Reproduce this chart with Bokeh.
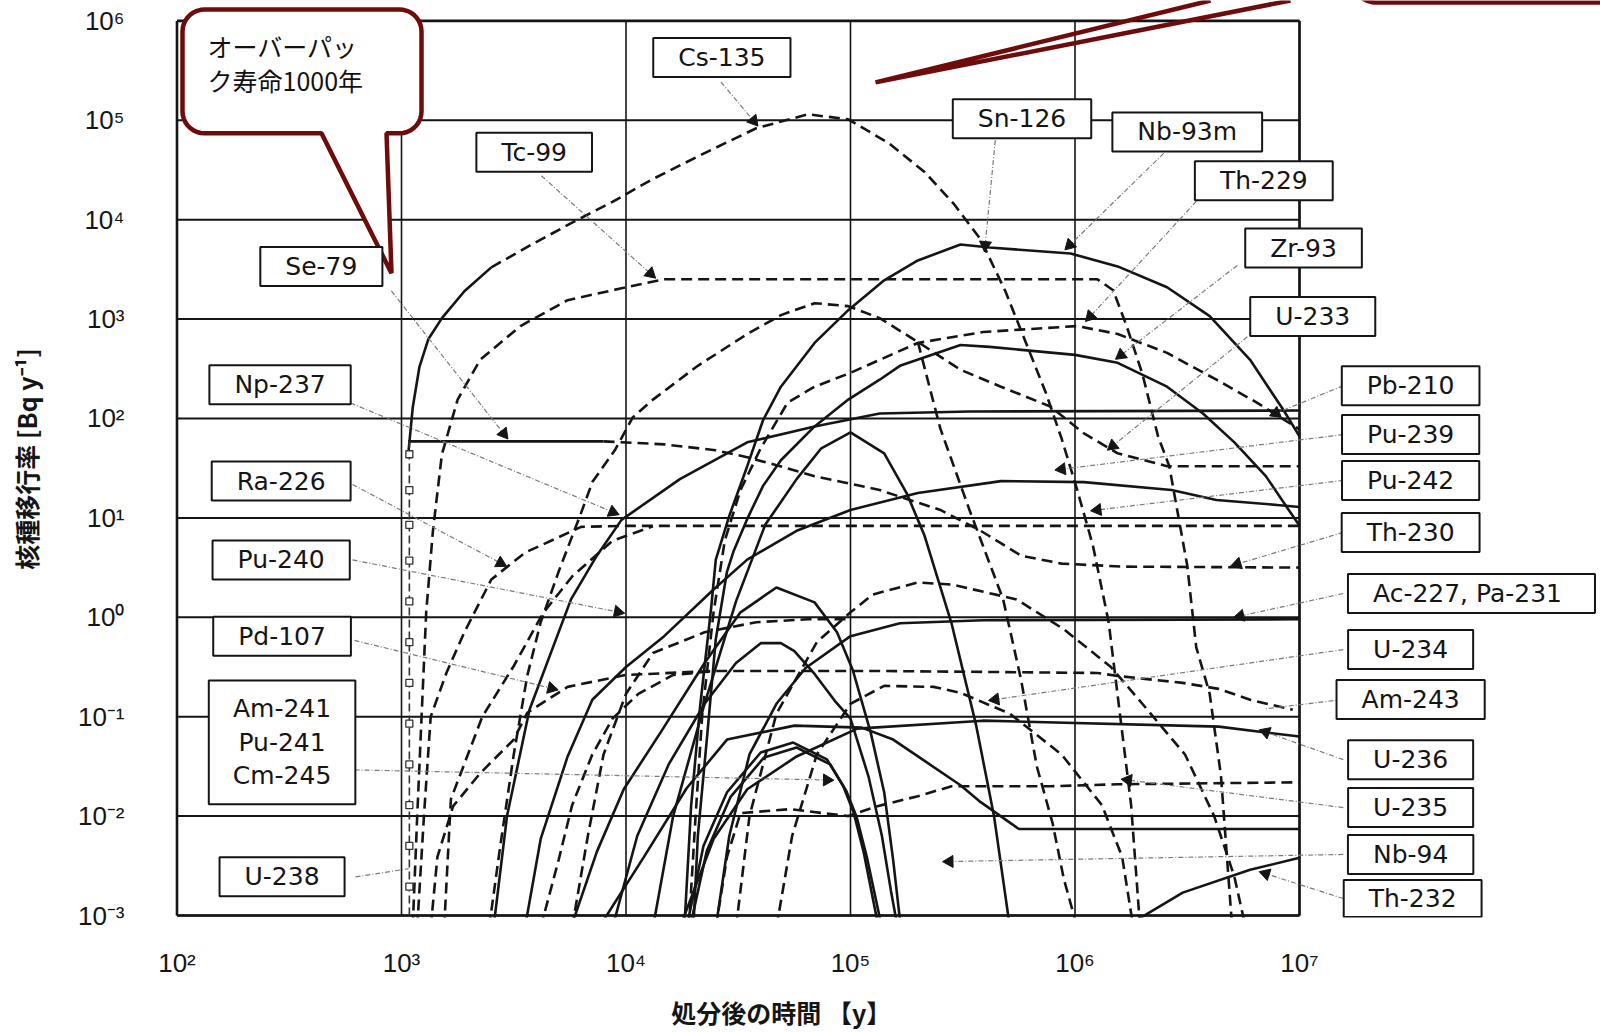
import math
from bokeh.plotting import figure
from bokeh.models import Range1d, FixedTicker, Label
from bokeh.core.properties import value
from bokeh.embed import file_html
from bokeh.resources import INLINE

# ---------------- axis ticks ----------------
X_TICKS = [1e2, 1e3, 1e4, 1e5, 1e6, 1e7]
X_TICK_LABELS = ["10²", "10³", "10⁴", "10⁵", "10⁶", "10⁷"]
Y_TICKS = [1e-3, 1e-2, 1e-1, 1e0, 1e1, 1e2, 1e3, 1e4, 1e5, 1e6]
Y_TICK_LABELS = ["10⁻³", "10⁻²", "10⁻¹", "10⁰", "10¹", "10²", "10³", "10⁴", "10⁵", "10⁶"]

# ---------------- curves: log10(time [y]) and log10(rate [Bq/y]) ----------------
se79_rise_t = [3.03, 3.05, 3.08, 3.12, 3.18, 3.28, 3.40]
se79_rise_r = [1.64, 2.11, 2.52, 2.80, 3.01, 3.28, 3.52]

cs135_t = [3.40, 3.58, 3.76, 3.94, 4.12, 4.35, 4.58, 4.81, 4.99, 5.17, 5.33, 5.46, 5.58, 5.69, 5.78, 5.87, 5.94, 6.01, 6.08, 6.15, 6.20, 6.25, 6.29]
cs135_r = [3.52, 3.75, 3.97, 4.18, 4.41, 4.67, 4.92, 5.06, 5.01, 4.77, 4.48, 4.16, 3.80, 3.28, 2.77, 2.26, 1.80, 1.28, 0.72, -0.05, -0.97, -1.89, -3.12]

tc99_t = [3.05, 3.07, 3.09, 3.11, 3.14, 3.18, 3.25, 3.35, 3.53, 3.74, 3.98, 4.17, 6.10, 6.17, 6.23, 6.30, 6.37, 6.42, 6.50, 6.54, 6.60, 6.65, 6.67, 6.70]
tc99_r = [-3.12, -2.00, -0.97, 0.05, 0.87, 1.64, 2.19, 2.59, 2.93, 3.19, 3.31, 3.40, 3.40, 3.29, 2.93, 2.45, 1.82, 1.52, 0.52, -0.30, -0.77, -1.59, -2.20, -3.12]

np237_solid_t = [3.03, 3.90]
np237_solid_r = [1.77, 1.77]
np237_t = [3.90, 4.17, 4.40, 4.54, 4.67, 4.84, 5.13, 5.40, 5.58, 5.76, 5.94, 6.21, 7.0]
np237_r = [1.77, 1.74, 1.68, 1.61, 1.53, 1.42, 1.28, 1.08, 0.87, 0.62, 0.54, 0.51, 0.50]

ra226_t = [3.07, 3.10, 3.13, 3.20, 3.28, 3.40, 3.55, 3.80, 4.0, 7.0]
ra226_r = [-3.12, -2.00, -1.00, -0.56, -0.15, 0.38, 0.65, 0.91, 0.92, 0.92]

pb210_t = [3.19, 3.22, 3.36, 3.50, 3.63, 3.76, 3.94, 4.12]
pb210_r = [-3.12, -1.83, -1.00, -0.49, 0.04, 0.41, 0.77, 0.915]

sn126_t = [4.26, 4.29, 4.33, 4.38, 4.40, 4.46, 4.54, 4.61, 4.69, 4.84, 4.99, 5.15, 5.30, 5.49, 5.62, 5.98, 6.19, 6.41, 6.60, 6.78, 6.93, 7.0]
sn126_r = [-3.12, -1.90, -0.90, 0.11, 0.58, 1.02, 1.52, 1.98, 2.32, 2.76, 3.09, 3.39, 3.59, 3.75, 3.72, 3.66, 3.53, 3.32, 3.03, 2.59, 2.08, 1.82]

nb93m_t = [4.30, 4.32, 4.36, 4.40, 4.45, 4.48, 4.54, 4.61, 4.69, 4.84, 4.99, 5.13, 5.22, 5.49, 5.62, 6.0, 6.19, 6.41, 6.57, 6.71, 6.85, 7.0]
nb93m_r = [-3.12, -2.20, -1.23, -0.22, 0.46, 0.67, 0.99, 1.32, 1.58, 1.92, 2.19, 2.39, 2.53, 2.74, 2.72, 2.64, 2.56, 2.32, 2.05, 1.76, 1.42, 0.92]

th229_t = [4.28, 4.31, 4.34, 4.39, 4.44, 4.51, 4.60, 4.72, 4.84, 4.99, 5.13, 5.30, 5.59, 6.01, 6.19, 6.41, 6.63, 6.81, 7.0]
th229_r = [-3.12, -2.0, -0.97, 0.05, 0.77, 1.28, 1.70, 2.16, 2.32, 2.45, 2.59, 2.76, 2.87, 2.93, 2.85, 2.66, 2.39, 2.16, 1.89]

zr93_t = [3.39, 3.44, 3.50, 3.56, 3.62, 3.70, 3.80, 3.85, 3.95, 4.03, 4.12, 4.32, 4.54, 4.69, 4.84, 4.99, 5.13, 5.30, 5.49, 5.67, 5.89, 6.04, 6.19, 6.41, 7.0]
zr93_r = [-3.12, -2.30, -1.38, -0.59, -0.05, 0.46, 1.05, 1.36, 1.68, 2.01, 2.19, 2.53, 2.85, 3.04, 3.16, 3.13, 3.01, 2.77, 2.49, 2.32, 2.12, 1.85, 1.65, 1.52, 1.52]

pu239_t = [3.41, 3.47, 3.57, 3.755, 3.87, 3.98, 4.24, 4.54, 4.84, 5.13, 5.53, 7.0]
pu239_r = [-3.12, -2.0, -0.93, 0.18, 0.62, 0.98, 1.39, 1.76, 1.92, 2.05, 2.07, 2.08]

pu242_t = [3.55, 3.62, 3.74, 3.85, 4.0, 4.17, 4.39, 4.54, 4.76, 5.0, 5.30, 5.67, 6.04, 6.43, 6.63, 6.90, 7.0]
pu242_r = [-3.12, -2.23, -1.40, -0.83, -0.50, -0.19, 0.28, 0.58, 0.87, 1.08, 1.25, 1.37, 1.36, 1.28, 1.18, 1.13, 1.11]

u233_t = [4.12, 4.21, 4.35, 4.49, 4.62, 4.76, 4.87, 5.0, 5.15, 5.25, 5.33, 5.45, 5.56, 5.64, 5.71]
u233_r = [-3.12, -2.0, -0.87, 0.16, 0.93, 1.39, 1.70, 1.86, 1.65, 1.25, 0.82, -0.06, -1.09, -2.01, -3.12]

am241_t = [3.755, 3.87, 3.99, 4.155, 4.35, 4.51, 4.67, 4.84, 4.94, 5.01, 5.09, 5.15, 5.19, 5.22, 5.23]
am241_r = [-3.12, -2.36, -1.73, -1.155, -0.46, 0.05, 0.30, 0.15, -0.15, -0.53, -1.16, -1.76, -2.44, -3.04, -3.12]

pu241_t = [3.94, 4.05, 4.19, 4.35, 4.49, 4.60, 4.69, 4.75, 4.84, 4.93, 5.0, 5.08, 5.14, 5.18, 5.21]
pu241_r = [-3.12, -2.20, -1.48, -0.87, -0.46, -0.26, -0.26, -0.34, -0.57, -0.84, -1.02, -1.60, -2.20, -2.75, -3.12]

cm245_t = [4.27, 4.345, 4.45, 4.60, 4.745, 4.895, 4.968, 5.014, 5.059, 5.118, 5.13]
cm245_r = [-3.12, -2.30, -1.76, -1.36, -1.26, -1.43, -1.70, -1.965, -2.365, -3.04, -3.12]
cm245b_t = [4.285, 4.36, 4.465, 4.615, 4.76, 4.91, 4.982, 5.028, 5.073, 5.132, 5.144]
cm245b_r = [-3.12, -2.35, -1.81, -1.41, -1.31, -1.48, -1.75, -2.015, -2.415, -3.04, -3.12]

u236_t = [4.24, 4.39, 4.54, 4.76, 5.03, 5.59, 6.64, 7.0]
u236_r = [-3.12, -2.23, -1.73, -1.40, -1.12, -1.04, -1.10, -1.20]

ac227_t = [4.40, 4.46, 4.55, 4.67, 4.80, 5.0, 5.22, 5.59, 7.0]
ac227_r = [-3.12, -2.20, -1.38, -0.87, -0.51, -0.19, -0.06, -0.03, -0.02]

nb94_t = [3.88, 4.08, 4.27, 4.45, 4.75, 5.05, 5.19, 5.34, 5.49, 5.58, 5.75, 7.0]
nb94_r = [-3.12, -2.41, -1.72, -1.23, -1.09, -1.11, -1.23, -1.46, -1.69, -1.86, -2.13, -2.13]

th232_t = [6.22, 6.48, 6.78, 7.0]
th232_r = [-3.12, -2.77, -2.54, -2.42]

u235_t = [4.40, 4.45, 4.51, 4.73, 4.99, 5.12, 5.30, 5.45, 5.89, 6.19, 7.0]
u235_r = [-3.12, -2.41, -1.97, -1.93, -2.0, -1.90, -1.80, -1.70, -1.70, -1.68, -1.66]

u234_t = [3.62, 3.70, 3.76, 3.85, 3.94, 4.055, 4.21, 4.40]
u234_r = [-3.12, -2.44, -1.89, -1.38, -1.02, -0.77, -0.58, -0.54]

pd107_t = [3.13, 3.16, 3.23, 3.35, 3.50, 3.56, 3.74, 4.0, 4.39, 5.13, 6.10, 6.19, 6.48, 6.64, 6.78, 6.97]
pd107_r = [-3.12, -2.41, -1.90, -1.57, -1.23, -0.96, -0.70, -0.58, -0.54, -0.54, -0.56, -0.59, -0.66, -0.72, -0.83, -0.93]

th230_t = [4.49, 4.55, 4.67, 4.85, 5.0, 5.10, 5.30, 5.45, 5.74, 5.95, 6.16, 6.30, 6.49, 6.62, 6.71, 6.76]
th230_r = [-3.12, -2.0, -0.97, -0.25, 0.05, 0.23, 0.35, 0.33, 0.18, -0.12, -0.50, -0.87, -1.38, -2.0, -2.61, -3.12]

am243_t = [4.67, 4.74, 4.85, 5.0, 5.15, 5.37, 5.49, 5.71, 5.94, 6.12, 6.21, 6.26]
am243_r = [-3.12, -2.20, -1.38, -0.87, -0.69, -0.70, -0.76, -0.97, -1.38, -1.89, -2.41, -3.12]

pa231_t = [5.30, 5.40, 5.53, 5.68, 5.76, 5.83, 5.90, 5.95, 6.01]
pa231_r = [2.77, 1.90, 1.08, 0.18, -0.63, -1.50, -2.07, -2.63, -3.12]

pu240_t = [3.76, 3.83, 3.90, 4.0, 4.12, 4.35, 4.58, 4.81, 5.0]
pu240_r = [-3.12, -2.20, -1.38, -0.77, -0.36, -0.15, -0.05, -0.02, -0.02]

u238_t = [3.035, 3.035]
u238_r = [-3.12, 1.77]
u238_mark_r = [1.64, 1.28, 0.93, 0.57, 0.16, -0.25, -0.66, -1.07, -1.48, -1.89, -2.30, -2.71]

SOLID = [(se79_rise_t, se79_rise_r), (np237_solid_t, np237_solid_r), (sn126_t, sn126_r),
         (nb93m_t, nb93m_r), (pu239_t, pu239_r), (pu242_t, pu242_r), (u233_t, u233_r),
         (am241_t, am241_r), (pu241_t, pu241_r), (cm245_t, cm245_r), (cm245b_t, cm245b_r),
         (u236_t, u236_r), (ac227_t, ac227_r), (nb94_t, nb94_r), (th232_t, th232_r)]
DASHED = [(cs135_t, cs135_r), (tc99_t, tc99_r), (np237_t, np237_r), (ra226_t, ra226_r),
          (pb210_t, pb210_r), (th229_t, th229_r), (zr93_t, zr93_r), (u235_t, u235_r),
          (u234_t, u234_r), (pd107_t, pd107_r), (th230_t, th230_r), (am243_t, am243_r),
          (pa231_t, pa231_r), (pu240_t, pu240_r)]

# ---------------- nuclide labels: text, box centre (log t, log r) ----------------
LABELS = [
    ("Se-79", 2.643, 3.53), ("Np-237", 2.459, 2.34), ("Ra-226", 2.464, 1.37),
    ("Pu-240", 2.464, 0.577), ("Pd-107", 2.468, -0.19), ("Am-241\nPu-241\nCm-245", 2.468, -1.258),
    ("U-238", 2.468, -2.611), ("Tc-99", 3.591, 4.678), ("Cs-135", 4.427, 5.631),
    ("Sn-126", 5.764, 5.016), ("Nb-93m", 6.50, 4.883), ("Th-229", 6.841, 4.391),
    ("Zr-93", 7.018, 3.714), ("U-233", 7.059, 3.027), ("Pb-210", 7.495, 2.33),
    ("Pu-239", 7.495, 1.838), ("Pu-242", 7.495, 1.377), ("Th-230", 7.495, 0.854),
    ("Ac-227,  Pa-231", 7.766, 0.239), ("U-234", 7.495, -0.325), ("Am-243", 7.495, -0.827),
    ("U-236", 7.495, -1.432), ("U-235", 7.495, -1.914), ("Nb-94", 7.495, -2.386),
    ("Th-232", 7.504, -2.829),
]
# leader lines: start (log t, log r), end (log t, log r), arrowhead?
LEADERS = [
    (2.955, 3.283, 3.455, 1.848, True), (2.773, 2.156, 3.941, 1.059, True),
    (2.782, 1.336, 3.441, 0.546, True), (2.782, 0.577, 3.964, 0.054, True),
    (2.791, -0.233, 3.668, -0.714, True), (2.791, -1.535, 4.895, -1.637, True),
    (2.795, -2.611, 3.032, -2.529, False), (3.623, 4.442, 4.109, 3.458, True),
    (4.423, 5.385, 4.568, 4.995, True), (5.645, 4.80, 5.60, 3.745, True),
    (6.395, 4.667, 5.977, 3.745, True), (6.541, 4.186, 6.068, 3.027, True),
    (6.723, 3.54, 6.205, 2.638, True), (6.768, 2.822, 6.168, 1.725, True),
    (7.195, 2.33, 6.895, 2.053, True), (7.195, 1.838, 5.941, 1.49, True),
    (7.195, 1.377, 6.10, 1.08, True), (7.195, 0.854, 6.723, 0.536, True),
    (7.195, 0.239, 6.736, 0.013, True), (7.195, -0.325, 5.645, -0.827, True),
    (7.195, -0.827, 6.85, -0.92, False), (7.195, -1.432, 6.85, -1.155, True),
    (7.195, -1.914, 6.236, -1.637, True), (7.195, -2.386, 5.441, -2.457, True),
    (7.195, -2.829, 6.85, -2.58, True),
]

# ---------------- layout (the page is drawn from its top-left corner) ----------------
W, H = 1600, 1032
BL, BB = 174, 114
X0_PAGE = 176.5     # page x of 10^2
X7_PAGE = 1299.0    # page x of 10^7
Y6_PAGE = 20.4      # page y of 10^6
YM3_PAGE = 916.0    # page y of 10^-3
PXX = (X7_PAGE - X0_PAGE) / 5
PXY = (YM3_PAGE - Y6_PAGE) / 9
INK = "#151515"
DARKRED = "#6e0b0b"


def pw(v):
    return [10 ** a for a in v]


def page2data(px, py):
    return 10 ** (2 + (px - X0_PAGE) / PXX), 10 ** (6 - (py - Y6_PAGE) / PXY)


p = figure(width=W, height=H, x_axis_type="log", y_axis_type="log",
           x_range=Range1d(10 ** (2 - (X0_PAGE - BL) / PXX), 10 ** (2 + (W - X0_PAGE) / PXX)),
           y_range=Range1d(10 ** (-3 - (H - BB - YM3_PAGE) / PXY), 10 ** (6 + Y6_PAGE / PXY)),
           output_backend="svg", toolbar_location=None,
           min_border_left=BL, min_border_right=0, min_border_top=0, min_border_bottom=BB)
p.outline_line_color = None
p.xgrid.grid_line_color = None
p.ygrid.grid_line_color = None
p.background_fill_color = "white"
p.border_fill_color = "white"

for ax, ticks, labs in ((p.xaxis, X_TICKS, X_TICK_LABELS), (p.yaxis, Y_TICKS, Y_TICK_LABELS)):
    ax.ticker = FixedTicker(ticks=ticks)
    ax.major_label_overrides = dict(zip(ticks, labs))
    ax.axis_line_color = None
    ax.major_tick_line_color = None
    ax.minor_tick_line_color = None
    ax.major_label_text_font = "Liberation Sans"
    ax.major_label_text_font_size = "26px"
    ax.major_label_text_color = INK
    ax.axis_label_text_font = "Noto Sans CJK JP"
    ax.axis_label_text_font_size = "25px"
    ax.axis_label_text_font_style = "bold"
    ax.axis_label_text_color = INK

p.xaxis.major_label_standoff = 24
# ideographic spaces keep the centred title over the data area rather than the wide frame
p.xaxis.axis_label = "処分後の時間 【y】" + "\u3000" * 9
p.xaxis.axis_label_standoff = 13
p.yaxis.major_label_standoff = 44
p.yaxis.axis_label = "核種移行率 [Bq y⁻¹]"
p.yaxis.axis_label_standoff = 31

# grid lines of the original chart
p.segment(x0=[X_TICKS[0]] * len(Y_TICKS), y0=Y_TICKS, x1=[X_TICKS[-1]] * len(Y_TICKS), y1=Y_TICKS,
          line_color=INK, line_width=2)
p.segment(x0=X_TICKS, y0=[Y_TICKS[0]] * len(X_TICKS), x1=X_TICKS, y1=[Y_TICKS[-1]] * len(X_TICKS),
          line_color=INK, line_width=1.6)
p.segment(x0=[X_TICKS[0], X_TICKS[-1]], y0=[Y_TICKS[0]] * 2, x1=[X_TICKS[0], X_TICKS[-1]], y1=[Y_TICKS[-1]] * 2,
          line_color=INK, line_width=2.6)
p.segment(x0=[X_TICKS[0]] * 2, y0=[Y_TICKS[0], Y_TICKS[-1]], x1=[X_TICKS[-1]] * 2, y1=[Y_TICKS[0], Y_TICKS[-1]],
          line_color=INK, line_width=2.6)

# curves
for t, r in SOLID:
    p.line(pw(t), pw(r), line_color=INK, line_width=2.6)
for t, r in DASHED:
    p.line(pw(t), pw(r), line_color=INK, line_width=2.6, line_dash="11 6")
p.line(pw(u238_t), pw(u238_r), line_color="#333", line_width=1.6, line_dash="8 4")
p.scatter(pw([u238_t[0]] * len(u238_mark_r)), pw(u238_mark_r), marker="square", size=7,
          fill_color="white", line_color="#333", line_width=1.3)

# leader lines with arrowheads
for t0, r0, t1, r1, arrow in LEADERS:
    p.line(pw([t0, t1]), pw([r0, r1]), line_color="#7a7a7a", line_width=1.2, line_dash="5 2 1 2")
ax_, ay_, aa_ = [], [], []
for t0, r0, t1, r1, arrow in LEADERS:
    if arrow:
        ax_.append(10 ** t1)
        ay_.append(10 ** r1)
        aa_.append(math.atan2((r1 - r0) * PXY, (t1 - t0) * PXX) - math.pi / 2)
p.scatter(ax_, ay_, marker="triangle", size=12, angle=aa_, fill_color=INK, line_color=INK)

# callout: "overpack lifetime 1000 years"
left, top, right, bottom, rad = 182, 9, 421, 133, 22
base_l, base_r, tip = 321, 386, (391, 273)
pts = []
for cx, cy, a0 in ((left + rad, top + rad, 180), (right - rad, top + rad, 270), (right - rad, bottom - rad, 0)):
    for k in range(10):
        a = math.radians(a0 + k * 10)
        pts.append((cx + rad * math.cos(a), cy + rad * math.sin(a)))
pts += [(base_r, bottom), tip, (base_l, bottom)]
for k in range(10):
    a = math.radians(90 + k * 10)
    pts.append((left + rad + rad * math.cos(a), bottom - rad + rad * math.sin(a)))
cx_, cy_ = zip(*[page2data(a, b) for a, b in pts])
p.patch(list(cx_), list(cy_), fill_color="white", line_color=DARKRED, line_width=4.5)
tx1, ty1 = page2data(207, 46)
tx2, ty2 = page2data(207, 80)
p.text(x=[tx1, tx2], y=[ty1, ty2], text=["オーバーパッ", "ク寿命1000年"],
       text_font=value("Noto Sans CJK JP"), text_font_size="25px", text_color="#111",
       text_align="left", text_baseline="middle")

# second callout: pointer and the bottom edge of its box above the picture
l2 = [page2data(a, b) for a, b in ((1210, 0), (875, 82), (1290, 0))]
p.line([q[0] for q in l2], [q[1] for q in l2], line_color=DARKRED, line_width=4.5)
edge = [(1353 + 22 + 22 * math.cos(math.radians(180 - k * 10)), -20 + 22 * math.sin(math.radians(180 - k * 10)))
        for k in range(10)] + [(1375, 2), (1610, 2)]
e2 = [page2data(a, b) for a, b in edge]
p.line([q[0] for q in e2], [q[1] for q in e2], line_color=DARKRED, line_width=4.5)

# nuclide label boxes
for text, lt, lr in LABELS:
    multi = "\n" in text
    pad = (24, 14) if multi else ((25, 4) if text == "Th-232" else (25, 5))
    p.add_layout(Label(x=10 ** lt, y=10 ** lr, text=text, text_align="center", text_baseline="middle",
                       text_font="DejaVu Sans", text_font_size="25px", text_color=INK,
                       text_line_height=1.15,
                       background_fill_color="white", border_line_color=INK, border_line_width=2,
                       padding=pad))

open("out.html", "w").write(file_html(p, INLINE))
